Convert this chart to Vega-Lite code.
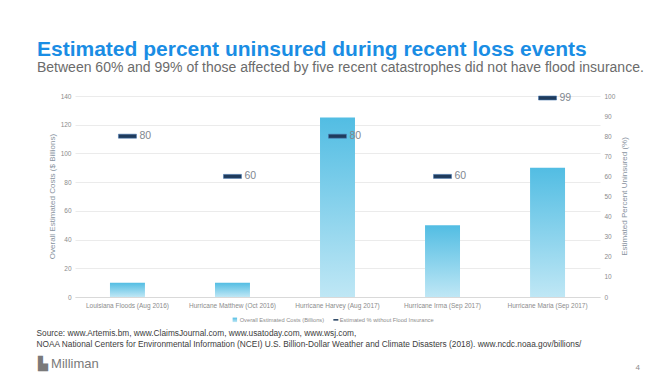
{
  "$schema": "https://vega.github.io/schema/vega-lite/v6.json",
  "width": 525,
  "height": 201,
  "autosize": {"type": "none"},
  "padding": {"left": 75, "top": 96, "right": 70, "bottom": 82},
  "background": "white",
  "config": {
    "font": "Liberation Sans",
    "view": {"stroke": null},
    "axis": {"labelFont": "Liberation Sans", "titleFont": "Liberation Sans"}
  },
  "title": {
    "text": "Estimated percent uninsured during recent loss events",
    "subtitle": "Between 60% and 99% of those affected by five recent catastrophes did not have flood insurance.",
    "anchor": "start",
    "frame": "group",
    "dx": -38,
    "offset": 18,
    "fontSize": 21,
    "fontWeight": "bold",
    "color": "#1a8de4",
    "subtitleFontSize": 14,
    "subtitleColor": "#6b6b6b",
    "subtitlePadding": 1
  },
  "data": {
    "values": [
      {"event": "Louisiana Floods (Aug 2016)", "cost": 10, "pct": 80},
      {"event": "Hurricane Matthew (Oct 2016)", "cost": 10, "pct": 60},
      {"event": "Hurricane Harvey (Aug 2017)", "cost": 125, "pct": 80},
      {"event": "Hurricane Irma    (Sep 2017)", "cost": 50, "pct": 60},
      {"event": "Hurricane Maria  (Sep 2017)", "cost": 90, "pct": 99}
    ]
  },
  "layer": [
    {
      "mark": {"type": "bar", "fill": {
            "gradient": "linear", "x1": 0, "y1": 0, "x2": 0, "y2": 1,
            "stops": [{"offset": 0, "color": "#52bde3"}, {"offset": 1, "color": "#bfe7f5"}]
          }},
      "encoding": {
        "x": {
          "field": "event", "type": "nominal", "sort": null,
          "scale": {"paddingInner": 0.667, "paddingOuter": 0.333},
          "axis": {
            "orient": "bottom",
            "labelAngle": 0, "labelFontSize": 6.5, "labelColor": "#8c8c8c", "labelPadding": 5,
            "ticks": false, "domainColor": "#d9d9d9", "domainWidth": 1,
            "title": ["Source: www.Artemis.bm, www.ClaimsJournal.com, www.usatoday.com, www.wsj.com,", "NOAA National Centers for Environmental Information (NCEI) U.S. Billion-Dollar Weather and Climate Disasters (2018). www.ncdc.noaa.gov/billions/"],
            "titleFontSize": 8.3, "titleFontWeight": "normal", "titleColor": "#3c3c3c",
            "titleAlign": "left", "titleBaseline": "top", "titleAnchor": "start",
            "titleX": -39, "titleY": 31, "titleLineHeight": 11
          }
        },
        "y": {
          "field": "cost", "type": "quantitative",
          "scale": {"domain": [0, 140]},
          "axis": {
            "orient": "left",
            "values": [0, 20, 40, 60, 80, 100, 120, 140],
            "labelFontSize": 6.5, "labelColor": "#8c8c8c", "labelPadding": 4,
            "ticks": false, "domain": false,
            "grid": true, "gridColor": "#ebebeb", "gridWidth": 1,
            "title": "Overall Estimated Costs ($ Billions)",
            "titleFontSize": 8, "titleFontWeight": "normal", "titleColor": "#8893a0",
            "titleX": -23, "titleY": 100, "titleAngle": 270, "titleAlign": "center", "titleBaseline": "middle"
          }
        },
        "opacity": {
          "datum": "Overall Estimated Costs (Billions)",
          "type": "nominal",
          "scale": {"range": [1]},
          "legend": {
            "orient": "none", "legendX": 157, "legendY": 221, "title": null,
            "symbolType": "square", "symbolSize": 20, "symbolStrokeWidth": 0,
            "symbolFillColor": "#5bc0e2",
            "labelFontSize": 5.7, "labelColor": "#8c8c8c", "labelOffset": 2
          }
        }
      }
    },
    {
      "mark": {"type": "tick", "size": 18, "thickness": 4, "opacity": 1, "stroke": "#4a78b0", "strokeWidth": 0.6},
      "encoding": {
        "x": {
          "field": "event", "type": "nominal", "sort": null,
          "scale": {"paddingInner": 0.667, "paddingOuter": 0.333},
          "axis": {
            "orient": "top", "labels": false, "ticks": false, "domain": false, "grid": false,
            "title": "▙ Milliman", "titleFontSize": 13, "titleFontWeight": "normal", "titleColor": "#7a7a7a",
            "titleAlign": "left", "titleBaseline": "alphabetic", "titleAnchor": "start",
            "titleX": -38, "titleY": 271, "titleAngle": 0
          }
        },
        "y": {
          "field": "pct", "type": "quantitative",
          "scale": {"domain": [0, 100]},
          "axis": {
            "orient": "right",
            "values": [0, 10, 20, 30, 40, 50, 60, 70, 80, 90, 100],
            "labelFontSize": 6.5, "labelColor": "#8c8c8c", "labelPadding": 4,
            "ticks": false, "domain": false, "grid": false,
            "title": "Estimated Percent Uninsured (%)",
            "titleFontSize": 8, "titleFontWeight": "normal", "titleColor": "#8893a0",
            "titleX": 24, "titleY": 100, "titleAngle": 270, "titleAlign": "center", "titleBaseline": "middle"
          }
        },
        "color": {
          "datum": "Estimated % without Flood Insurance",
          "scale": {"range": ["#1f3b5c"]},
          "legend": {
            "orient": "none", "legendX": 258, "legendY": 221, "title": null,
            "symbolType": "M-1,-0.3H1V0.3H-1Z", "symbolSize": 25, "symbolStrokeWidth": 0,
            "symbolOpacity": 1,
            "labelFontSize": 5.7, "labelColor": "#8c8c8c", "labelOffset": 1
          }
        }
      }
    },
    {
      "mark": {"type": "text", "align": "left", "baseline": "middle", "dx": 12, "fontSize": 10.5, "color": "#7f8790"},
      "encoding": {
        "x": {
          "field": "event", "type": "nominal", "sort": null,
          "scale": {"paddingInner": 0.667, "paddingOuter": 0.333},
          "axis": {
            "orient": "bottom", "labels": false, "ticks": false, "domain": false, "grid": false,
            "title": "4", "titleFontSize": 8, "titleFontWeight": "normal", "titleColor": "#8c8c8c",
            "titleAlign": "left", "titleBaseline": "alphabetic",
            "titleX": 560, "titleY": 72, "titleAngle": 0
          }
        },
        "y": {
          "field": "pct", "type": "quantitative",
          "scale": {"domain": [0, 100]},
          "axis": null
        },
        "text": {"field": "pct", "type": "quantitative"}
      }
    }
  ],
  "resolve": {
    "scale": {"x": "independent", "y": "independent", "color": "independent", "opacity": "independent"},
    "axis": {"x": "independent", "y": "independent"},
    "legend": {"color": "independent", "opacity": "independent"}
  }
}
